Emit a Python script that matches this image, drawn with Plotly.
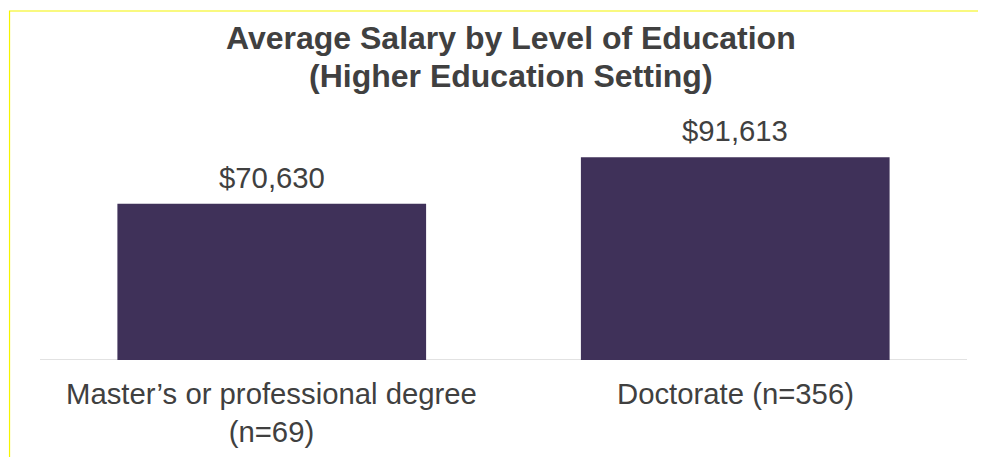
import plotly.graph_objects as go

categories = ["Master’s or professional degree", "Doctorate"]
cat_labels = ["Master’s or professional degree<br>(n=69)", "Doctorate (n=356)"]
salaries = [70630, 91613]
value_labels = ["$70,630", "$91,613"]
title_lines = ["Average Salary by Level of Education", "(Higher Education Setting)"]

# page body has an 8px default margin, so the figure is drawn 8px smaller
OFF = 8
W, H = 986 - OFF, 457 - OFF
L, R, T, B = 39.5 - OFF, 18.5, 110 - OFF, 97
PW, PH = W - L - R, H - T - B

fig = go.Figure()
fig.add_trace(go.Bar(
    x=categories, y=salaries, width=0.666,
    marker=dict(color="#3f3159", line=dict(width=0)),
    hoverinfo="skip",
))

font = "Liberation Sans, Arial, sans-serif"
txtcol = "#404040"
ann = []
for c, v, lab in zip(categories, salaries, value_labels):
    ann.append(dict(x=c, y=v, xref="x", yref="y", text=lab, showarrow=False,
                    yanchor="bottom", yshift=8,
                    font=dict(family=font, size=29.3, color=txtcol)))
for c, lab in zip(categories, cat_labels):
    ann.append(dict(x=c, y=0, xref="x", yref="y", text=lab, showarrow=False,
                    yanchor="top", yshift=-15, align="center",
                    font=dict(family=font, size=29.3, color=txtcol)))
for i, line in enumerate(title_lines):
    py = 18 - OFF + 38 * i  # pixel top of line box
    ann.append(dict(x=(511 - OFF - L) / PW, y=(H - B - py) / PH,
                    xref="paper", yref="paper",
                    xanchor="center", yanchor="top", text="<b>%s</b>" % line,
                    showarrow=False,
                    font=dict(family=font, size=32, color=txtcol)))

fig.update_layout(
    width=W, height=H,
    margin=dict(l=L, r=R, t=T, b=B, pad=0),
    paper_bgcolor="white", plot_bgcolor="white",
    showlegend=False,
    bargap=0.334,
    xaxis=dict(showticklabels=False, showgrid=False, zeroline=False,
               showline=False, ticks=""),
    yaxis=dict(range=[0, 113000], visible=False, showgrid=False, zeroline=False),
    annotations=ann,
    shapes=[
        dict(type="line", xref="paper", yref="y", x0=0, x1=1, y0=0, y1=0,
             line=dict(color="#d9d9d9", width=1.5), layer="below"),
        dict(type="rect", xref="paper", yref="paper",
             x0=(9 - OFF - L) / PW, x1=(1013 - OFF - L) / PW,
             y0=(H - B - 470) / PH, y1=(H - B - (11 - OFF)) / PH,
             line=dict(color="#f4f400", width=1.2), fillcolor="rgba(0,0,0,0)"),
    ],
)

fig.write_html("out.html")
